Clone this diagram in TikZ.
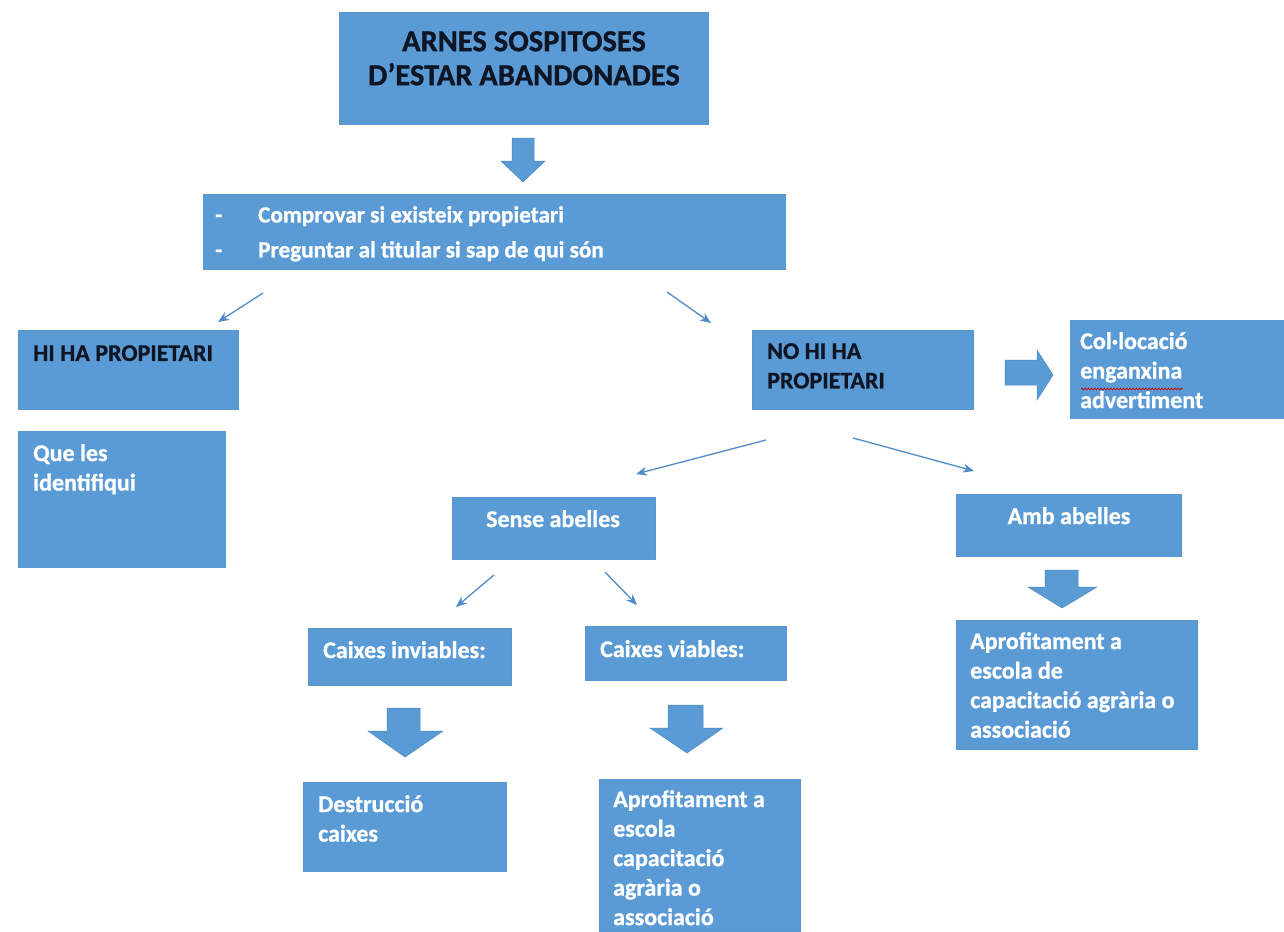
\documentclass[tikz,border=0pt]{standalone}
\usepackage{fontspec}
\setmainfont{Carlito}[BoldFeatures={FakeBold=0.9}]
\usetikzlibrary{arrows.meta,decorations.pathmorphing}
\definecolor{boxblue}{HTML}{5B9BD5}
\definecolor{boxedge}{HTML}{5A97CF}
\definecolor{arrowfill}{HTML}{5B9BD5}
\definecolor{arrowedge}{HTML}{4A86C0}
\definecolor{linkblue}{HTML}{4F8BC9}
\definecolor{darktext}{HTML}{0E1626}
\newcommand\mybox[5]{\node[box, minimum width={(#4)-(#2)}, minimum height={(#5)-(#3)}] (#1) at ({((#2)+(#4))/2},{((#3)+(#5))/2}) {};}
\begin{document}
\begin{tikzpicture}[x=1pt,y=-1pt,
  box/.style={rectangle, fill=boxblue, draw=boxedge, line width=0.6pt, inner sep=0pt},
  txt/.style={inner sep=0pt, text=white, font=\fontsize{24}{29.5}\selectfont\bfseries, align=left},
  darktxt/.style={txt, text=darktext},
  titletxt/.style={inner sep=0pt, text=darktext, font=\fontsize{30.5}{34}\selectfont\bfseries, align=center},
  checktxt/.style={txt, font=\fontsize{23.2}{35}\selectfont\bfseries},
  link/.style={draw=linkblue, line width=1.3pt, -{Stealth[length=11pt,width=9pt]}},
  blockarrow/.style={fill=arrowfill, draw=arrowedge, line width=0.5pt, line join=miter}
]
\useasboundingbox (0,0) rectangle (1284,931);

% boxes
\mybox{title}{339}{12}{708}{124}
\mybox{check}{203}{194}{785}{269}
\mybox{hi}{18}{330}{238}{409}
\mybox{que}{18}{431}{225}{567}
\mybox{no}{752}{330}{973}{409}
\mybox{col}{1070}{320}{1284}{418}
\mybox{sense}{452}{497}{655}{559}
\mybox{amb}{956}{494}{1181}{556}
\mybox{aprofR}{956}{620}{1197}{749}
\mybox{inv}{308}{628}{511}{685}
\mybox{via}{585}{626}{786}{680}
\mybox{dest}{303}{782}{506}{871}
\mybox{aprofM}{599}{779}{800}{931}

% texts
\node[titletxt, anchor=north] (titleT) at (524,31) {ARNES SOSPITOSES\\D’ESTAR ABANDONADES};
\node[checktxt, anchor=north west] (checkT) at (215,206) {\makebox[43pt][l]{-}Comprovar si existeix propietari\\\makebox[43pt][l]{-}Preguntar al titular si sap de qui són};
\node[darktxt, anchor=north west] (hiT) at (33,345) {HI HA PROPIETARI};
\node[txt, anchor=north west] (queT) at (33,444) {Que les\\identifiqui};
\node[darktxt, anchor=north west] (noT) at (767,343) {NO HI HA\\PROPIETARI};
\node[txt, anchor=north west] (colT) at (1080,332) {Col·locació\\enganxina\\advertiment};
\node[txt, anchor=north] (senseT) at (553,510) {Sense abelles};
\node[txt, anchor=north] (ambT) at (1069,507) {Amb abelles};
\node[txt, anchor=north west] (aprofRT) at (970,632) {Aprofitament a\\escola de\\capacitació agrària o\\associació};
\node[txt, anchor=north west] (invT) at (323,641) {Caixes inviables:};
\node[txt, anchor=north west] (viaT) at (600,640) {Caixes viables:};
\node[txt, anchor=north west] (destT) at (318,795) {Destrucció\\caixes};
\node[txt, anchor=north west] (aprofMT) at (613,790) {Aprofitament a\\escola\\capacitació\\agrària o\\associació};

% spell-check underline
\draw[red!80!black, line width=0.7pt, decorate, decoration={snake, amplitude=0.9pt, segment length=3.2pt}] (1081,389) -- (1183,389);

% thin arrows
\coordinate (c1s) at (263,293); \coordinate (c1e) at (218,322);
\coordinate (c2s) at (667,292); \coordinate (c2e) at (711,323);
\coordinate (c3s) at (766,440); \coordinate (c3e) at (636,474);
\coordinate (c4s) at (853,438); \coordinate (c4e) at (974,471);
\coordinate (c5s) at (494,575); \coordinate (c5e) at (456,607);
\coordinate (c6s) at (605,572); \coordinate (c6e) at (637,605);
\draw[link] (c1s) -- (c1e);
\draw[link] (c2s) -- (c2e);
\draw[link] (c3s) -- (c3e);
\draw[link] (c4s) -- (c4e);
\draw[link] (c5s) -- (c5e);
\draw[link] (c6s) -- (c6e);

% block arrows
\draw[blockarrow] (512,138) -- (534,138) -- (534,161) -- (545,161) -- (523,182) -- (501,161) -- (512,161) -- cycle;
\draw[blockarrow] (387,708) -- (420,708) -- (420,731) -- (443,731) -- (405,757) -- (368,731) -- (387,731) -- cycle;
\draw[blockarrow] (668,705) -- (703,705) -- (703,728) -- (723,728) -- (687,753) -- (650,728) -- (668,728) -- cycle;
\draw[blockarrow] (1045,570) -- (1078,570) -- (1078,587) -- (1097,587) -- (1062,608) -- (1028,587) -- (1045,587) -- cycle;
\draw[blockarrow] (1005,360) -- (1037,360) -- (1037,350) -- (1053,375) -- (1037,400) -- (1037,385) -- (1005,385) -- cycle;
\end{tikzpicture}
\end{document}
